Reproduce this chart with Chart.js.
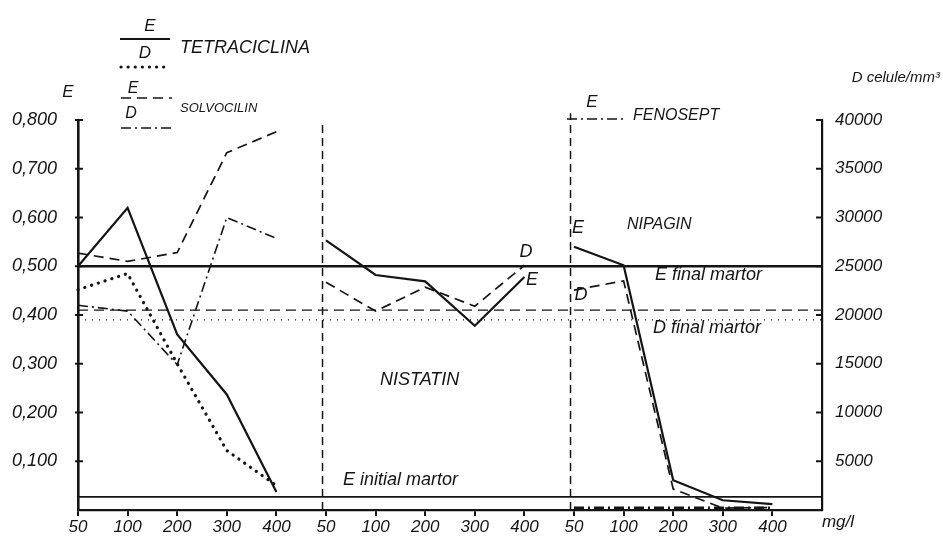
<!DOCTYPE html>
<html>
<head>
<meta charset="utf-8">
<script src="https://cdn.jsdelivr.net/npm/chart.js@4.4.1/dist/chart.umd.min.js"></script>
<style>
  html, body { margin: 0; padding: 0; background: #fff; }
</style>
</head>
<body>
<canvas id="chart" width="943" height="542"></canvas>
<script>
// doze (mg/l) - trei grupe de cate 5
const doses = ['50', '100', '200', '300', '400'];
const tickLabels = [...doses, ...doses, ...doses];
const group1 = [0, 1, 2, 3, 4];
const group2 = [5, 6, 7, 8, 9];
const group3 = [10, 11, 12, 13, 14];

// valori (axa E, 0..0.8 ; D = E * 50000)
const tetraE = [0.500, 0.620, 0.360, 0.237, 0.037];
const tetraD = [0.452, 0.485, 0.300, 0.122, 0.050];
const solvoE = [0.527, 0.510, 0.528, 0.733, 0.776];
const solvoD = [0.420, 0.408, 0.298, 0.600, 0.557];
const nistatinE = [0.553, 0.482, 0.469, 0.378, 0.478];
const nistatinD = [0.467, 0.408, 0.457, 0.418, 0.502];
const nipaginE = [0.540, 0.502, 0.061, 0.020, 0.012];
const nipaginD = [0.451, 0.470, 0.043, 0.004, 0.005];
const fenoseptE = [0.004, 0.004, 0.004, 0.004, 0.004];

// linii martor
const dMartor = 0.500;
const eFinalMartor = 0.410;
const dFinalMartor = 0.390;
const eInitialMartor = 0.027;
const dividers = [4.93, 9.93];

const INK = '#141414';
const FONT = 'Liberation Sans';

function pts(xs, ys) {
    return xs.map((x, i) => ({ x: x, y: ys[i] }));
}
function hline(y) {
    return [{ x: 0, y: y }, { x: 15, y: y }];
}

const SOLID = { borderDash: [], borderWidth: 2.2 };
const DASHED = { borderDash: [10, 6], borderWidth: 1.7 };
const DOTTED = { borderDash: [0.1, 7], borderWidth: 3.2, borderCapStyle: 'round' };
const DASHDOT = { borderDash: [10, 4, 2, 4], borderWidth: 1.6 };

function ds(data, style, extra) {
    return Object.assign({
        data: data,
        borderColor: INK,
        pointRadius: 0,
        tension: 0,
        fill: false,
        clip: false,
        yAxisID: 'y'
    }, style, extra || {});
}

// textele si legenda desenate pe canvas
const notesPlugin = {
    id: 'notes',
    afterDraw(chart) {
        const c = chart.ctx;
        const yl = chart.scales.y, yr = chart.scales.y1;
        c.save();
        c.strokeStyle = INK;
        c.fillStyle = INK;
        // tick-uri spre interior pe axele verticale
        c.lineWidth = 2;
        [0.1, 0.2, 0.3, 0.4, 0.5, 0.6, 0.7, 0.8].forEach(v => {
            const py = yl.getPixelForValue(v);
            c.beginPath(); c.moveTo(yl.right - 3, py); c.lineTo(yl.right + 5, py); c.stroke();
        });
        [5000, 10000, 15000, 20000, 25000, 30000, 35000, 40000].forEach(v => {
            const py = yr.getPixelForValue(v);
            c.beginPath(); c.moveTo(yr.left - 6, py); c.lineTo(yr.left, py); c.stroke();
        });

        // mostre de legenda
        function seg(x1, x2, y, style) {
            c.beginPath();
            c.setLineDash(style.borderDash);
            c.lineWidth = style.borderWidth;
            c.lineCap = style.borderCapStyle || 'butt';
            c.moveTo(x1, y); c.lineTo(x2, y); c.stroke();
        }
        seg(120, 170, 39, SOLID);
        seg(121, 170, 67, DOTTED);
        seg(121, 172, 98, DASHED);
        seg(121, 173, 128, DASHDOT);
        seg(567, 625, 119, DASHDOT);
        c.setLineDash([]);

        function txt(s, x, y, size, align) {
            c.font = 'italic ' + size + 'px "' + FONT + '"';
            c.textAlign = align || 'left';
            c.textBaseline = 'middle';
            c.fillText(s, x, y);
        }
        txt('E', 150, 26, 17, 'center');
        txt('D', 145, 53, 17, 'center');
        txt('TETRACICLINA', 180, 48, 18);
        txt('E', 133, 89, 16, 'center');
        txt('D', 131, 114, 16, 'center');
        txt('SOLVOCILIN', 180, 108, 13);
        txt('E', 68, 92, 17, 'center');
        txt('D celule/mm³', 940, 78, 15, 'right');
        txt('E', 592, 102, 17, 'center');
        txt('FENOSEPT', 633, 116, 16);
        txt('E', 578, 228, 18, 'center');
        txt('NIPAGIN', 627, 225, 16);
        txt('D', 526, 252, 18, 'center');
        txt('E', 532, 280, 18, 'center');
        txt('E final martor', 655, 275, 18);
        txt('D', 581, 295, 18, 'center');
        txt('D final martor', 653, 328, 18);
        txt('NISTATIN', 380, 380, 18);
        txt('E initial martor', 343, 480, 18);
        txt('mg/l', 838, 522, 17, 'center');
        c.restore();
    }
};

const ctx = document.getElementById('chart').getContext('2d');
const chart = new Chart(ctx, {
    type: 'line',
    data: {
        datasets: [
            // linii martor
            ds(hline(dMartor), SOLID, { borderWidth: 2.4 }),
            ds(hline(eFinalMartor), DASHED, { borderWidth: 1.4 }),
            ds(hline(dFinalMartor), { borderDash: [1, 6], borderWidth: 1.4 }),
            ds(hline(eInitialMartor), SOLID, { borderWidth: 1.6 }),
            // separatoare intre grupe
            ds([{ x: dividers[0], y: 0 }, { x: dividers[0], y: 0.8 }], DASHED, { borderDash: [8, 5], borderWidth: 1.5 }),
            ds([{ x: dividers[1], y: 0 }, { x: dividers[1], y: 0.814 }], DASHED, { borderDash: [8, 5], borderWidth: 1.5 }),
            // tetraciclina
            ds(pts(group1, tetraE), SOLID),
            ds(pts(group1, tetraD), DOTTED),
            // solvocilin
            ds(pts(group1, solvoE), DASHED),
            ds(pts(group1, solvoD), DASHDOT),
            // nistatin
            ds(pts(group2, nistatinE), SOLID),
            ds(pts(group2, nistatinD), DASHED),
            // nipagin
            ds(pts(group3, nipaginE), SOLID),
            ds(pts(group3, nipaginD), DASHED),
            // fenosept
            ds(pts(group3, fenoseptE), DASHDOT, { borderWidth: 3 })
        ]
    },
    options: {
        responsive: false,
        animation: false,
        events: [],
        layout: { padding: { top: 120, left: 0, right: 0, bottom: 0 } },
        plugins: {
            legend: { display: false },
            tooltip: { enabled: false },
            title: { display: false }
        },
        scales: {
            x: {
                type: 'linear',
                min: 0,
                max: 15,
                afterFit: (s) => { s.height = 32; },
                afterBuildTicks: (s) => {
                    s.ticks = tickLabels.map((_, i) => ({ value: i }));
                },
                ticks: {
                    autoSkip: false,
                    maxRotation: 0,
                    padding: 1,
                    color: INK,
                    font: { family: FONT, size: 17, style: 'italic' },
                    callback: (v) => tickLabels[v] || ''
                },
                grid: { display: true, drawOnChartArea: false, tickLength: 6, color: INK, lineWidth: 2 },
                border: { display: true, color: INK, width: 2.2 }
            },
            y: {
                position: 'left',
                min: 0,
                max: 0.8,
                afterFit: (s) => { s.width = 78; },
                ticks: {
                    stepSize: 0.1,
                    padding: 13,
                    color: INK,
                    font: { family: FONT, size: 18, style: 'italic' },
                    callback: (v) => v < 0.05 ? '' : v.toFixed(3).replace('.', ',')
                },
                grid: { display: false },
                border: { display: true, color: INK, width: 2.6 }
            },
            y1: {
                position: 'right',
                min: 0,
                max: 40000,
                afterFit: (s) => { s.width = 121; },
                ticks: {
                    stepSize: 5000,
                    padding: 5,
                    color: INK,
                    font: { family: FONT, size: 17, style: 'italic' },
                    callback: (v) => v === 0 ? '' : String(v)
                },
                grid: { display: false },
                border: { display: true, color: INK, width: 2.2 }
            }
        }
    },
    plugins: [notesPlugin]
});
</script>
</body>
</html>
